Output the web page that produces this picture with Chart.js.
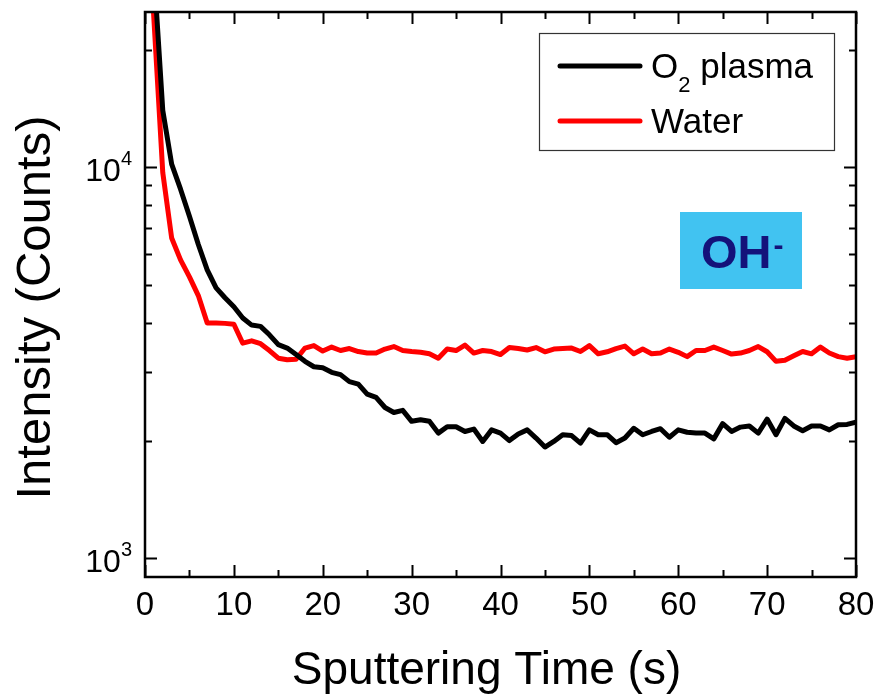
<!DOCTYPE html>
<html>
<head>
<meta charset="utf-8">
<script src="https://cdn.jsdelivr.net/npm/chart.js@4.4.1/dist/chart.umd.min.js"></script>
<style>
  html, body { margin: 0; padding: 0; background: #fff; }
  #wrap { width: 878px; height: 698px; }
</style>
</head>
<body>
<div id="wrap"><canvas id="depthChart" width="878" height="698"></canvas></div>
<script>
const FONT = "'Liberation Sans', Arial, Helvetica, sans-serif";

// sputtering time (s)
const times = [
    0, 1, 2, 3, 4, 5, 6, 7, 8, 9,
    10, 11, 12, 13, 14, 15, 16, 17, 18, 19,
    20, 21, 22, 23, 24, 25, 26, 27, 28, 29,
    30, 31, 32, 33, 34, 35, 36, 37, 38, 39,
    40, 41, 42, 43, 44, 45, 46, 47, 48, 49,
    50, 51, 52, 53, 54, 55, 56, 57, 58, 59,
    60, 61, 62, 63, 64, 65, 66, 67, 68, 69,
    70, 71, 72, 73, 74, 75, 76, 77, 78, 79,
    80
];

// OH- intensity, O2 plasma sample (counts)
const o2Plasma = [
    80000, 32000, 14000, 10200, 8800, 7500, 6350, 5470, 4920, 4640,
    4400, 4120, 3950, 3920, 3730, 3520, 3450, 3320, 3190, 3090,
    3070, 2990, 2950, 2830, 2790, 2630, 2580, 2430, 2360, 2390,
    2240, 2260, 2240, 2090, 2170, 2170, 2110, 2140, 1990, 2130,
    2090, 2000, 2080, 2130, 2030, 1925, 1990, 2070, 2060, 1970,
    2130, 2070, 2070, 1975, 2030, 2150, 2070, 2110, 2145, 2040,
    2130, 2100, 2090, 2090, 2020, 2210, 2110, 2165, 2180, 2090,
    2270, 2070, 2280, 2180, 2120, 2180, 2180, 2130, 2195, 2200,
    2230
];

// OH- intensity, water sample (counts)
const water = [
    60000, 24000, 9700, 6600, 5800, 5250, 4700, 4000, 4000, 3990,
    3970, 3550, 3600, 3540, 3400, 3250, 3220, 3230, 3450, 3500,
    3390, 3470, 3400, 3440, 3380, 3350, 3350, 3430, 3480, 3400,
    3380, 3365, 3335, 3250, 3430, 3400, 3510, 3350, 3400, 3380,
    3320, 3460, 3440, 3410, 3460, 3375, 3430, 3440, 3450, 3380,
    3500, 3335, 3375, 3440, 3490, 3335, 3430, 3335, 3350, 3430,
    3365, 3280, 3400, 3400, 3470, 3400, 3330, 3350, 3400, 3480,
    3375, 3190, 3210, 3295, 3380, 3335, 3470, 3350, 3280, 3250,
    3280
];

const xMajorTicks = [0, 10, 20, 30, 40, 50, 60, 70, 80];
const xMinorTicks = [5, 15, 25, 35, 45, 55, 65, 75];
const yMajorTicks = [1000, 10000];
const yMinorTicks = [2000, 3000, 4000, 5000, 6000, 7000, 8000, 9000, 20000];
const yTickLabels = [[1000, '3'], [10000, '4']];

const seriesNames = ['O2 plasma', 'Water'];
const seriesColors = ['#000000', '#ff0000'];
const xTitle = 'Sputtering Time (s)';
const yTitle = 'Intensity (Counts)';

function toPoints(values) {
    return values.map((v, i) => ({ x: times[i], y: v }));
}

// frame, inward ticks on all four sides, axis titles, y labels with exponents, legend, OH- tag
const decorations = {
    id: 'decorations',
    afterDraw(chart) {
        const { ctx, chartArea: a, scales: { x, y } } = chart;
        ctx.save();
        ctx.strokeStyle = '#000';
        ctx.lineWidth = 2;
        ctx.lineCap = 'butt';

        const xTick = (v, len) => {
            const px = Math.round(x.getPixelForValue(v)) + 0.5;
            ctx.beginPath();
            ctx.moveTo(px, a.bottom); ctx.lineTo(px, a.bottom - len);
            ctx.moveTo(px, a.top); ctx.lineTo(px, a.top + len);
            ctx.stroke();
        };
        const yTick = (v, len) => {
            const py = Math.round(y.getPixelForValue(v)) + 0.5;
            ctx.beginPath();
            ctx.moveTo(a.left, py); ctx.lineTo(a.left + len, py);
            ctx.moveTo(a.right, py); ctx.lineTo(a.right - len, py);
            ctx.stroke();
        };
        xMajorTicks.forEach(v => xTick(v, 12));
        xMinorTicks.forEach(v => xTick(v, 7));
        yMajorTicks.forEach(v => yTick(v, 12));
        yMinorTicks.forEach(v => yTick(v, 7));

        ctx.lineWidth = 2.5;
        ctx.strokeRect(a.left, a.top, a.right - a.left, a.bottom - a.top);

        // axis titles
        ctx.fillStyle = '#000';
        ctx.textBaseline = 'alphabetic';
        ctx.textAlign = 'center';
        ctx.font = '46px ' + FONT;
        ctx.fillText(xTitle, (a.left + a.right) / 2 - 14, 684);
        ctx.save();
        ctx.translate(50, (a.top + a.bottom) / 2 + 13);
        ctx.rotate(-Math.PI / 2);
        ctx.font = '49px ' + FONT;
        ctx.fillText(yTitle, 0, 0);
        ctx.restore();

        // y tick labels 10^n
        ctx.textAlign = 'right';
        yTickLabels.forEach(([v, exp]) => {
            const py = y.getPixelForValue(v);
            ctx.font = '20px ' + FONT;
            const ew = ctx.measureText(exp).width;
            const right = a.left - 13;
            ctx.fillText(exp, right, py - 2);
            ctx.font = '32px ' + FONT;
            ctx.fillText('10', right - ew, py + 14);
        });

        // legend
        const lx = a.right - 317, ly = a.top + 21;
        ctx.fillStyle = '#fff';
        ctx.fillRect(lx, ly, 295, 117);
        ctx.strokeStyle = '#333';
        ctx.lineWidth = 1.2;
        ctx.strokeRect(lx + 0.5, ly + 0.5, 295, 117);
        ctx.lineCap = 'round';
        ctx.lineWidth = 5;
        ctx.textAlign = 'left';
        chart.data.datasets.forEach((ds, i) => {
            const rowY = ly + 33 + i * 55;
            ctx.strokeStyle = ds.borderColor;
            ctx.beginPath();
            ctx.moveTo(lx + 21, rowY); ctx.lineTo(lx + 101, rowY);
            ctx.stroke();
            ctx.fillStyle = '#000';
            const tx = lx + 112, base = rowY + 12;
            if (ds.label === 'O2 plasma') {
                ctx.font = '35px ' + FONT;
                ctx.fillText('O', tx, base);
                const ow = ctx.measureText('O').width;
                ctx.font = '22px ' + FONT;
                ctx.fillText('2', tx + ow, base + 14);
                const sw = ctx.measureText('2').width;
                ctx.font = '35px ' + FONT;
                ctx.fillText(' plasma', tx + ow + sw, base);
            } else {
                ctx.font = '35px ' + FONT;
                ctx.fillText(ds.label, tx, base);
            }
        });

        // OH- tag
        const bx = a.right - 176, by = a.top + 200;
        ctx.fillStyle = '#41c3f1';
        ctx.fillRect(bx, by, 122, 77);
        ctx.fillStyle = '#14127a';
        ctx.font = 'bold 47px ' + FONT;
        ctx.fillText('OH', bx + 21, by + 56);
        const hw = ctx.measureText('OH').width;
        ctx.font = 'bold 30px ' + FONT;
        ctx.fillText('-', bx + 23 + hw, by + 43);
        ctx.restore();
    }
};

new Chart(document.getElementById('depthChart'), {
    type: 'line',
    data: {
        datasets: [{
            label: seriesNames[0],
            data: toPoints(o2Plasma),
            borderColor: seriesColors[0],
            borderWidth: 5,
            pointRadius: 0,
            tension: 0,
            borderJoinStyle: 'round'
        }, {
            label: seriesNames[1],
            data: toPoints(water),
            borderColor: seriesColors[1],
            borderWidth: 5,
            pointRadius: 0,
            tension: 0,
            borderJoinStyle: 'round'
        }]
    },
    options: {
        responsive: false,
        animation: false,
        layout: { padding: { top: 12, right: 22, left: 0, bottom: 0 } },
        plugins: {
            legend: { display: false },
            tooltip: { enabled: false }
        },
        scales: {
            x: {
                type: 'linear',
                min: 0,
                max: 80,
                grid: { display: false, drawTicks: false },
                border: { display: false },
                ticks: {
                    stepSize: 10,
                    color: '#000',
                    maxRotation: 0,
                    padding: 9,
                    font: { size: 33, family: FONT }
                },
                afterFit(scale) {
                    scale.height = 121;
                    scale.paddingLeft = 0;
                    scale.paddingRight = 0;
                }
            },
            y: {
                type: 'logarithmic',
                min: 895,
                max: 25000,
                grid: { display: false, drawTicks: false },
                border: { display: false },
                ticks: { display: false },
                afterFit(scale) { scale.width = 145; }
            }
        }
    },
    plugins: [decorations]
});
</script>
</body>
</html>
